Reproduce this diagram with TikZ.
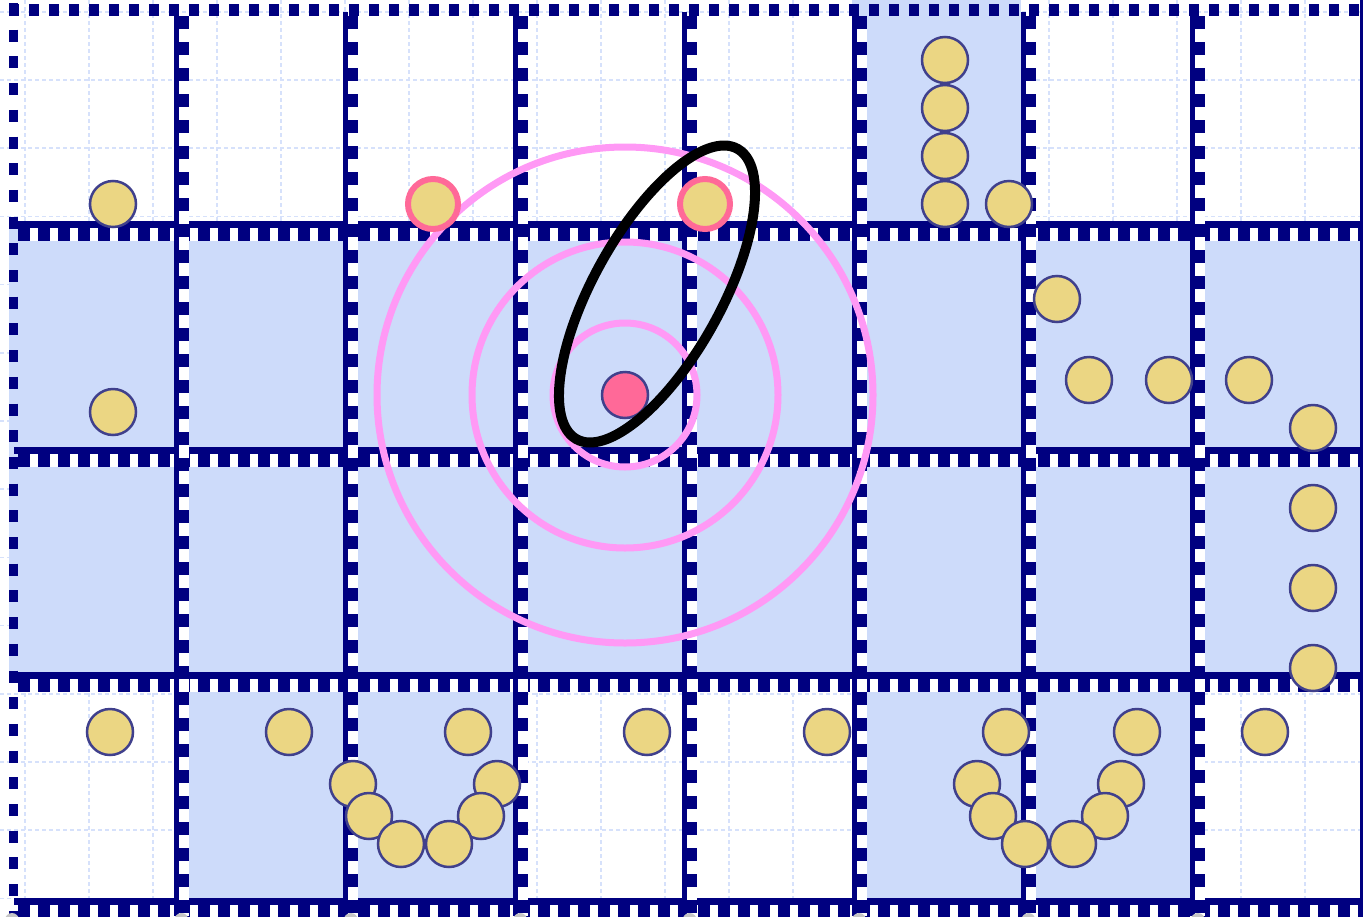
\documentclass[tikz,border=0pt]{standalone}
\usepackage{xcolor}

\definecolor{boardnavy}{RGB}{0,0,128}
\definecolor{cellblue}{RGB}{205,219,250}
\definecolor{gridblue}{RGB}{214,225,251}
\definecolor{coinyellow}{RGB}{235,214,131}
\definecolor{coinedge}{RGB}{64,64,140}
\definecolor{hotpink}{RGB}{255,105,152}
\definecolor{ringpink}{RGB}{255,153,245}

\tikzset{
  coin/.style={circle, draw=coinedge, fill=coinyellow, line width=2.5pt, minimum size=46pt, inner sep=0pt},
  marked/.style={coin, draw=hotpink, line width=6pt, minimum size=50pt},
  gridline/.style={gridblue, line width=1.5pt, dash pattern=on 4pt off 3pt},
  ring/.style={ringpink, line width=7pt},
  checker/.style={boardnavy, dash pattern=on #1 off #1},
}

\begin{document}
\begin{tikzpicture}[x=1pt, y=-1pt, node distance=48pt]
    \useasboundingbox (0,0) rectangle (1363,916);
    \clip (0,0) rectangle (1363,916);
    % faint background grid
    \foreach \gx in {0,...,21}
        \draw[gridline] ({25+64*\gx},0) -- ({25+64*\gx},916);
    \foreach \gy in {0,...,13}
        \draw[gridline] (0,{11.8+68.2*\gy}) -- (1363,{11.8+68.2*\gy});
    % shaded cells
    \fill[cellblue] ({4.6+5*169.4},0) rectangle ({4.6+6*169.4},221);
    \fill[cellblue] (9,221) rectangle (1363,673);
    \fill[cellblue] ({4.6+169.4},673) rectangle ({4.6+3*169.4},898);
    \fill[cellblue] ({4.6+5*169.4},673) rectangle ({4.6+7*169.4},898);
    % board edges
    \draw[checker=10pt, line width=12pt] (9,10) -- (1363,10);
    \draw[boardnavy, line width=9pt, dash pattern=on 12pt off 14.7pt] (13.5,3) -- (13.5,916);
    \fill[boardnavy] (1359.6,0) rectangle (1363,916);
    \foreach \y in {221,446.7,672.4,898.1} {
        \fill[boardnavy] (14,\y) rectangle (1363,\y+7);
        \fill[white] (18,\y+7) rectangle (1363,\y+20);
        \draw[boardnavy, line width=13pt, dash pattern=on 12pt off 8pt] (18,\y+13.5) -- (1363,\y+13.5);
    }
    \foreach \c in {1,...,7} {
        \fill[boardnavy] ({4.6+\c*169.4},12) rectangle ({9.6+\c*169.4},916);
        \fill[white] ({9.6+\c*169.4},16) rectangle ({19.6+\c*169.4},916);
        \draw[checker=13pt, line width=10pt] ({14.6+\c*169.4},16) -- ({14.6+\c*169.4},916);
    }
    \foreach \c in {0,...,7}
        \fill[gray!45] ({12+\c*169.4},920) circle[radius=7];
    % distance rings and the oval
    \draw[ring] (625,395) circle[radius=72];
    \draw[ring] (625,395) circle[radius=153];
    \draw[ring] (625,395) circle[radius=248];
    % coins
    \node[coin] (a1) at (113,204) {};
    \node[marked] (m1) at (433,204) {};
    \node[marked] (m2) at (705,204) {};
    \node[coin] (s1) at (945,204) {};
    \node[coin, above of=s1] (s2) {};
    \node[coin, above of=s2] (s3) {};
    \node[coin, above of=s3] (s4) {};
    \node[coin] (s5) at (1009,204) {};
    \node[coin] (a2) at (113,412) {};
    \node[coin, fill=hotpink] (goal) at (625,395) {};
    \node[coin] (e1) at (1057,299) {};
    \node[coin] (e2) at (1089,380) {};
    \node[coin] (e3) at (1169,380) {};
    \node[coin] (e4) at (1249,380) {};
    \node[coin] (e5) at (1313,428) {};
    \node[coin] (e6) at (1313,508) {};
    \node[coin] (e7) at (1313,588) {};
    \node[coin] (e8) at (1313,668) {};
    \node[coin] (f1) at (110,732) {};
    \node[coin] (f2) at (289,732) {};
    \node[coin] (f3) at (468,732) {};
    \node[coin] (f4) at (647,732) {};
    \node[coin] (f5) at (827,732) {};
    \node[coin] (f6) at (1006,732) {};
    \node[coin] (f7) at (1137,732) {};
    \node[coin] (f8) at (1265,732) {};
    \node[coin] (u1) at (353,784) {};
    \node[coin] (u6) at (497,784) {};
    \node[coin] (u2) at (369,816) {};
    \node[coin] (u5) at (481,816) {};
    \node[coin] (u3) at (401,844) {};
    \node[coin] (u4) at (449,844) {};
    \node[coin] (v1) at (977,784) {};
    \node[coin] (v6) at (1121,784) {};
    \node[coin] (v2) at (993,816) {};
    \node[coin] (v5) at (1105,816) {};
    \node[coin] (v3) at (1025,844) {};
    \node[coin] (v4) at (1073,844) {};
    \draw[line width=10pt, rotate around={61:(657,294)}] (657,294) ellipse[x radius=166, y radius=64];
\end{tikzpicture}
\end{document}
